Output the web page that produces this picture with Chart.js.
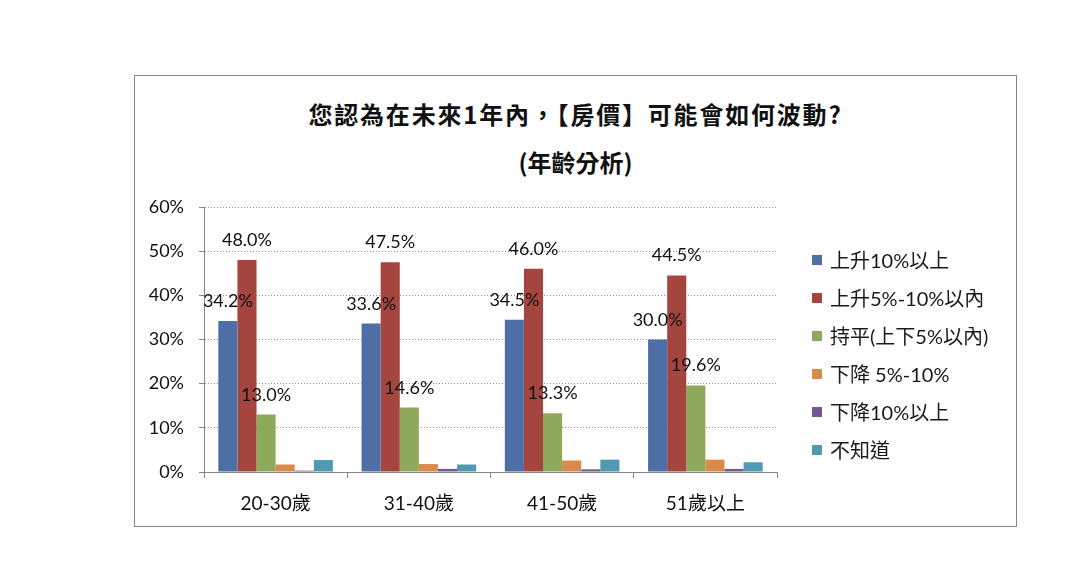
<!DOCTYPE html>
<html>
<head>
<meta charset="utf-8">
<script src="https://cdn.jsdelivr.net/npm/chart.js@4.4.1/dist/chart.umd.min.js"></script>
<style>
  html, body { margin: 0; padding: 0; background: #ffffff; }
  body { width: 1080px; height: 569px; position: relative; overflow: hidden; }
  #frame { position: absolute; left: 134px; top: 75px; width: 883px; height: 452px; box-sizing: border-box; border: 1px solid #868686; }
  #c { position: absolute; left: 0; top: 0; }
  #title { position: absolute; left: 134px; width: 883px; top: 90px; text-align: center;
           font-family: "Noto Sans CJK TC", "Noto Sans", sans-serif; font-weight: bold; font-size: 24px; color: #111; }
  #title div { height: 48px; line-height: 48px; }
  #title .l1 { letter-spacing: 1.8px; }
  #legend { position: absolute; left: 812px; top: 241px; font-family: Lato, "Noto Sans CJK TC", sans-serif; font-size: 20px; color: #1a1a1a; }
  #legend .row { height: 38px; line-height: 38px; white-space: nowrap; display: flex; align-items: center; }
  #legend .sw { width: 10px; height: 10px; margin-right: 8px; flex: none; }
</style>
</head>
<body>
<div id="title"><div class="l1">您認為在未來1年內，【房價】可能會如何波動?</div><div>(年齡分析)</div></div>
<div id="frame"><canvas id="c" width="881" height="450"></canvas></div>
<div id="legend"></div>
<script>
const categories = ["20-30歲", "31-40歲", "41-50歲", "51歲以上"];
const seriesNames = ["上升10%以上", "上升5%-10%以內", "持平(上下5%以內)", "下降 5%-10%", "下降10%以上", "不知道"];
const riseOver10 = [34.2, 33.6, 34.5, 30.0];
const rise5to10 = [48.0, 47.5, 46.0, 44.5];
const flat = [13.0, 14.6, 13.3, 19.6];
const fall5to10 = [1.7, 1.8, 2.6, 2.8];
const fallOver10 = [0.3, 0.7, 0.6, 0.7];
const unknown = [2.7, 1.7, 2.8, 2.2];
const yTicks = [0, 10, 20, 30, 40, 50, 60];
const colors = ["#4E6FA6", "#A5453F", "#8FA95A", "#D98B4A", "#705A91", "#4F9AB1"];
const labeledSeries = [0, 1, 2];

const seriesValues = [riseOver10, rise5to10, flat, fall5to10, fallOver10, unknown];
const FONT = 'Lato, "Noto Sans CJK TC", sans-serif';

// HTML legend
const legendEl = document.getElementById('legend');
seriesNames.forEach((n, i) => {
  const row = document.createElement('div'); row.className = 'row';
  const sw = document.createElement('span'); sw.className = 'sw'; sw.style.background = colors[i];
  const t = document.createElement('span'); t.textContent = n;
  row.appendChild(sw); row.appendChild(t); legendEl.appendChild(row);
});

const labelPlugin = {
  id: 'valueLabels',
  afterDatasetsDraw(chart) {
    const ctx = chart.ctx;
    ctx.save();
    ctx.font = '18px ' + FONT;
    ctx.fillStyle = '#111';
    ctx.textAlign = 'center';
    ctx.textBaseline = 'alphabetic';
    labeledSeries.forEach(di => {
      const meta = chart.getDatasetMeta(di);
      meta.data.forEach((bar, i) => {
        const v = chart.data.datasets[di].data[i];
        ctx.fillText(v.toFixed(1) + '%', bar.x, bar.y - 14);
      });
    });
    ctx.restore();
  }
};

new Chart(document.getElementById('c'), {
  type: 'bar',
  data: {
    labels: categories,
    datasets: seriesNames.map((n, i) => ({
      label: n,
      data: seriesValues[i],
      backgroundColor: colors[i],
      borderWidth: 0,
      categoryPercentage: 0.8,
      barPercentage: 1.0
    }))
  },
  options: {
    responsive: false,
    devicePixelRatio: 1,
    animation: false,
    layout: { padding: { left: 0, top: 131, right: 239, bottom: 0 } },
    plugins: { legend: { display: false }, title: { display: false }, tooltip: { enabled: false } },
    scales: {
      x: {
        grid: { display: true, drawOnChartArea: false, drawTicks: true, tickLength: 6, color: '#868686', offset: true },
        border: { display: true, color: '#868686', width: 1 },
        ticks: { font: { size: 19, family: FONT }, color: '#111', padding: 14, maxRotation: 0 },
        afterFit: (axis) => { axis.height = 54; }
      },
      y: {
        min: 0, max: 60,
        afterBuildTicks: (axis) => { axis.ticks = yTicks.map(v => ({ value: v })); },
        grid: { display: true, drawOnChartArea: true, drawTicks: true, tickLength: 5, color: '#8c8c8c', tickColor: '#868686' },
        border: { display: true, color: '#868686', width: 1, dash: [1, 2] },
        ticks: { font: { size: 18, family: FONT }, color: '#111', padding: 15, callback: v => v + '%' },
        afterFit: (axis) => { axis.width = 69; }
      }
    }
  },
  plugins: [labelPlugin]
});
</script>
</body>
</html>
